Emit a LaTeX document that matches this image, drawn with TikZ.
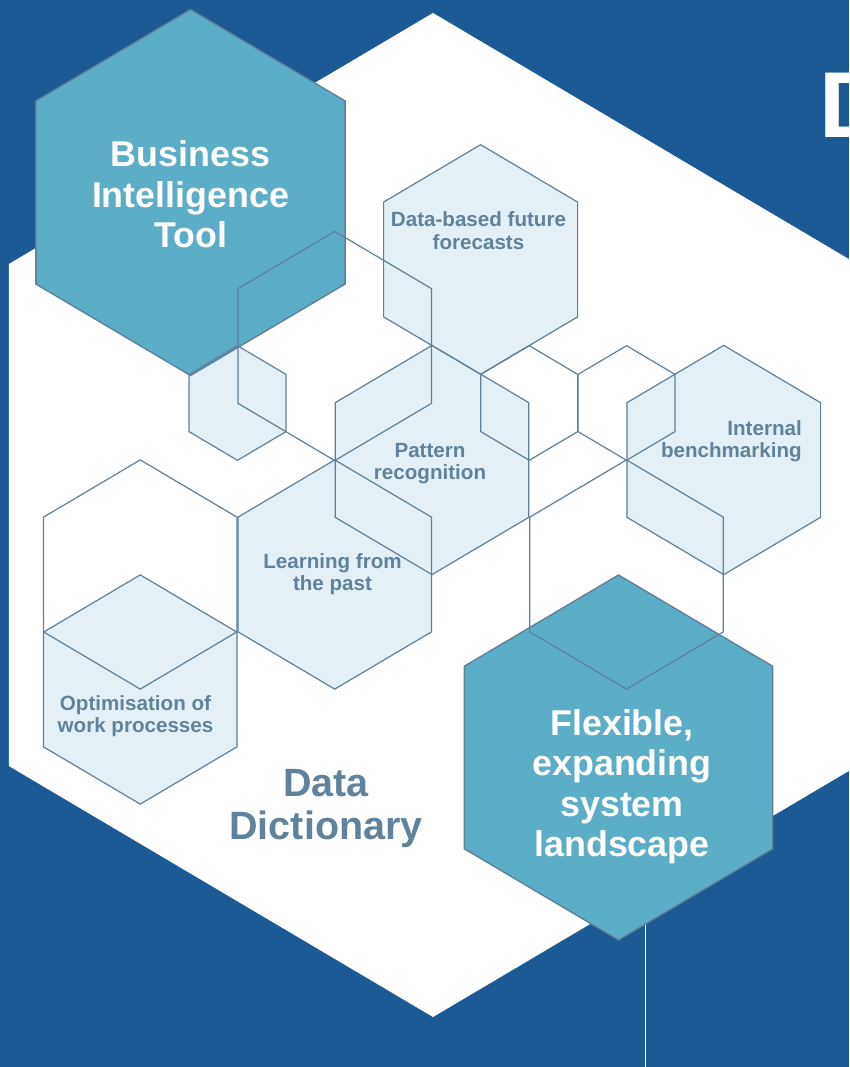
\documentclass[tikz,border=0pt]{standalone}
\usepackage{fontspec}
\setmainfont{Liberation Sans}
\definecolor{pagebg}{HTML}{1B5A94}
\definecolor{tealhex}{HTML}{5CADC7}
\definecolor{palehex}{HTML}{E4F0F5}
\definecolor{hexline}{HTML}{5F809B}
\definecolor{slate}{HTML}{60829C}
% pointy-top hexagon path: centre (#1,#2), vertical radius #3
\newcommand\hexat[3]{({#1},{#2-#3}) -- ({#1+0.845*#3},{#2-0.5*#3}) -- ({#1+0.845*#3},{#2+0.5*#3}) -- ({#1},{#2+#3}) -- ({#1-0.845*#3},{#2+0.5*#3}) -- ({#1-0.845*#3},{#2-0.5*#3}) -- cycle}
% multi-line label whose base is the first baseline
\newcommand\lines[2]{\begin{tabular}[t]{@{}#1@{}}#2\end{tabular}}
\begin{document}
\begin{tikzpicture}[x=1pt,y=-1pt,
  palefill/.style={fill=palehex},
  outline/.style={draw=hexline,line width=1.2pt,line join=miter},
  tealfill/.style={fill=tealhex,draw=hexline,line width=1.4pt},
  smalltext/.style={inner sep=0pt,text=slate,font=\bfseries\fontsize{20.6}{22}\selectfont},
  bigtext/.style={inner sep=0pt,text=white,font=\bfseries\fontsize{35.8}{40.5}\selectfont},
  titletext/.style={inner sep=0pt,text=slate,font=\bfseries\fontsize{39.5}{43}\selectfont}]
\useasboundingbox (0,0) rectangle (849,1067);
\fill[pagebg] (0,0) rectangle (849,1067);
\clip (0,0) rectangle (849,1067);

% large white hexagon behind everything
\fill[white] \hexat{433}{515}{502};

% thin line leaving the lower teal hexagon
\coordinate (flexfoot) at (645.3,1067);
\coordinate (flexstem) at (645.3,900);
\draw[white,line width=1.5pt] (flexstem) -- (flexfoot);

% pale filled cells
\fill[palefill] \hexat{237.5}{403}{57.3};
\fill[palefill] \hexat{480.6}{259.5}{114.8};
\fill[palefill] \hexat{432}{460}{114.6};
\fill[palefill] \hexat{334.75}{574.5}{114.6};
\fill[palefill] \hexat{140.25}{689.5}{114.6};
\fill[palefill] \hexat{723.75}{460}{114.6};

% teal feature cells
\draw[tealfill] \hexat{190.5}{192.5}{183};
\draw[tealfill] \hexat{618.5}{757.5}{182.5};

% all cell outlines on top
\draw[outline] \hexat{237.5}{403}{57.3};
\draw[outline] \hexat{529.25}{403}{57.3};
\draw[outline] \hexat{626.5}{403}{57.3};
\draw[outline] \hexat{334.75}{346}{114.6};
\draw[outline] \hexat{140.25}{574.5}{114.6};
\draw[outline] \hexat{626.5}{574.5}{114.6};
\draw[outline] \hexat{480.6}{259.5}{114.8};
\draw[outline] \hexat{432}{460}{114.6};
\draw[outline] \hexat{334.75}{574.5}{114.6};
\draw[outline] \hexat{140.25}{689.5}{114.6};
\draw[outline] \hexat{723.75}{460}{114.6};

% labels
\node[bigtext,anchor=base] (bitool) at (190.5,166.7) {\lines{c}{Business\\Intelligence\\Tool}};
\node[bigtext,anchor=base] (flexsys) at (622,735) {\lines{c}{Flexible,\\expanding\\system\\landscape}};
\node[smalltext,anchor=base] (forecast) at (478.5,227) {\lines{c}{Data-based future\\forecasts}};
\node[smalltext,anchor=base] (pattern) at (430,457) {\lines{c}{Pattern\\recognition}};
\node[smalltext,anchor=base east] (bench) at (802,435.5) {\lines{r}{Internal\\benchmarking}};
\node[smalltext,anchor=base] (learning) at (332.5,568.5) {\lines{c}{Learning from\\the past}};
\node[smalltext,anchor=base] (optim) at (135.5,710.5) {\lines{c}{Optimisation of\\work processes}};
\node[titletext,anchor=base] (dictionary) at (326,796) {\lines{c}{Data\\Dictionary}};
\node[inner sep=0pt,anchor=base west,text=white,font=\bfseries\fontsize{93.6}{100}\selectfont] (heading) at (819,138) {D};
\end{tikzpicture}
\end{document}
